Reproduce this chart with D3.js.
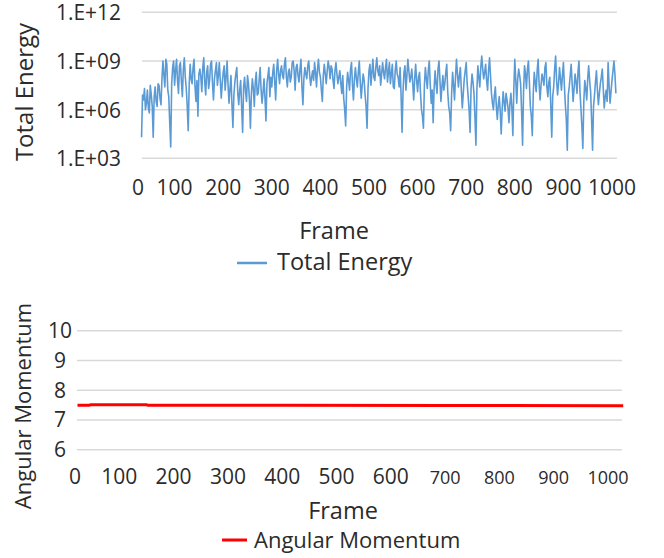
<!DOCTYPE html>
<html>
<head>
<meta charset="utf-8">
<script src="https://cdn.jsdelivr.net/npm/d3@7"></script>
<style>
body { margin: 0; background: #fff; }
text { font-family: "Open Sans", sans-serif; fill: #2b2b2b; }
</style>
</head>
<body>
<script>
var energyStart = 32, energyStep = 2;
var energyLog10 = [
  4.3, 6.9, 6.6, 7.3, 6.0, 6.4, 7.2, 6.1, 5.8, 7.5, 6.9, 6.2, 4.3, 6.8, 7.4, 6.5, 6.2, 7.6, 7.5, 6.7,
  6.3, 7.9, 9.0, 8.1, 7.4, 9.1, 8.8, 7.2, 6.8, 5.2, 3.7, 7.6, 8.6, 9.0, 7.5, 8.4, 9.1, 7.8, 7.0, 8.7,
  8.9, 7.7, 6.8, 8.5, 9.2, 8.0, 7.3, 6.2, 4.7, 7.5, 8.8, 7.9, 7.6, 8.6, 9.1, 7.4, 6.5, 7.8, 5.6, 8.2,
  8.5, 8.0, 7.1, 8.6, 9.2, 7.7, 6.9, 8.3, 8.7, 7.3, 7.8, 8.8, 9.0, 7.6, 6.6, 7.9, 8.4, 8.9, 7.5, 8.1,
  8.9, 7.8, 6.7, 7.6, 8.3, 8.7, 7.2, 8.0, 9.0, 7.5, 6.4, 7.3, 8.1, 6.3, 4.9, 6.9, 7.7, 8.2, 8.6, 7.0,
  6.3, 7.2, 7.8, 6.1, 4.6, 7.4, 8.0, 7.1, 6.5, 8.1, 7.6, 6.6, 4.85, 7.0, 7.9, 7.3, 6.2, 7.7, 8.3, 6.9,
  7.0, 7.8, 8.6, 7.2, 6.4, 7.1, 7.9, 6.7, 5.3, 7.6, 8.1, 8.6, 6.8, 8.0, 7.4, 8.3, 8.8, 7.7, 6.6, 8.4,
  9.1, 8.2, 7.6, 8.4, 8.7, 8.1, 7.9, 8.8, 9.2, 8.0, 7.4, 8.3, 8.5, 7.7, 8.0, 8.9, 9.0, 8.4, 7.2, 8.6,
  8.8, 8.1, 7.7, 8.5, 9.1, 7.4, 6.3, 7.9, 8.6, 8.2, 7.9, 8.7, 9.0, 8.1, 7.5, 8.0, 8.4, 7.8, 8.9, 8.3,
  7.4, 8.5, 9.1, 8.3, 8.0, 7.2, 6.5, 8.1, 8.8, 8.2, 7.6, 8.4, 9.0, 8.6, 7.9, 8.7, 8.5, 7.8, 7.3, 8.4,
  8.9, 8.2, 7.6, 8.0, 8.4, 7.6, 7.0, 8.1, 6.7, 6.0, 5.0, 7.4, 8.3, 7.8, 7.2, 8.5, 8.9, 7.5, 6.6, 7.9,
  8.6, 7.9, 7.4, 8.3, 9.0, 7.7, 6.7, 7.5, 8.2, 7.8, 6.9, 6.2, 4.85, 7.3, 8.4, 8.8, 7.5, 8.3, 9.1, 8.0,
  7.8, 8.6, 9.2, 8.4, 8.1, 8.7, 7.5, 8.2, 8.9, 8.3, 7.9, 8.6, 9.1, 7.7, 8.3, 8.9, 7.6, 8.2, 8.8, 7.4,
  7.3, 8.4, 9.0, 8.2, 8.0, 7.4, 8.6, 6.9, 4.6, 7.1, 8.3, 8.7, 7.2, 8.1, 9.1, 8.4, 7.7, 8.0, 8.5, 7.6,
  6.6, 7.9, 8.8, 7.8, 7.1, 8.0, 8.3, 7.0, 6.0, 5.6, 4.85, 7.5, 8.6, 7.9, 7.3, 8.4, 9.0, 7.6, 6.4, 7.2,
  5.2, 7.3, 8.4, 7.6, 7.0, 8.5, 9.0, 7.8, 6.5, 7.4, 8.1, 7.2, 7.6, 8.3, 8.8, 7.1, 6.2, 5.8, 4.7, 7.0,
  8.3, 7.5, 6.6, 8.0, 9.1, 8.2, 7.4, 8.1, 8.6, 7.2, 6.1, 7.0, 7.9, 8.4, 8.9, 7.6, 6.8, 6.0, 4.6, 7.3,
  8.2, 7.7, 7.0, 5.5, 3.8, 7.2, 8.7, 8.0, 7.4, 8.6, 9.3, 8.5, 7.9, 8.3, 8.8, 7.8, 7.2, 8.4, 9.2, 8.1,
  7.0, 6.4, 6.0, 6.9, 7.4, 6.2, 5.4, 6.3, 6.8, 5.9, 4.5, 6.0, 7.1, 6.5, 5.9, 7.0, 6.6, 6.1, 5.2, 6.4,
  7.0, 6.1, 4.4, 7.3, 9.1, 7.8, 6.4, 7.9, 8.5, 8.1, 7.6, 5.9, 3.8, 7.1, 8.7, 8.2, 7.3, 8.5, 9.0, 7.7,
  6.2, 5.6, 4.4, 7.0, 8.3, 7.7, 7.1, 8.4, 9.1, 7.6, 6.6, 7.5, 8.2, 7.9, 7.5, 8.6, 8.9, 7.4, 6.8, 7.7,
  8.0, 6.3, 4.3, 6.8, 7.4, 8.5, 9.3, 7.8, 6.9, 7.6, 8.6, 7.9, 7.2, 8.1, 8.9, 7.5, 6.3, 5.4, 3.5, 6.9,
  7.4, 8.1, 8.8, 7.6, 6.5, 7.3, 8.2, 7.7, 7.0, 8.3, 9.0, 7.2, 6.1, 5.0, 3.6, 6.5, 7.8, 7.3, 6.6, 7.9,
  8.7, 7.8, 7.1, 5.4, 3.5, 6.2, 6.9, 7.7, 8.4, 7.2, 6.3, 7.0, 7.6, 8.0, 8.5, 7.3, 6.1, 6.8, 7.2, 6.5,
  8.9, 7.5, 6.4, 7.1, 7.8, 8.4, 9.0, 8.2, 7.0
];
var energyTicks = [1e3, 1e6, 1e9, 1e12];
var energyTickLabels = ['1.E+03', '1.E+06', '1.E+09', '1.E+12'];
var frameTicks = [0, 100, 200, 300, 400, 500, 600, 700, 800, 900, 1000];

// angular momentum
var amFrames = [23, 45, 47, 150, 153, 400, 700, 1028];
var amValues = [7.49, 7.49, 7.51, 7.51, 7.49, 7.49, 7.485, 7.48];
var amTicks = [6, 7, 8, 9, 10];

var svg = d3.select('body').append('svg')
            .attr('width', 664)
            .attr('height', 558);

// ---- top chart ----
var xTop = d3.scaleLinear().domain([0, 1000]).range([126, 612]);
var yTop = d3.scaleLog().domain([1e3, 1e12]).range([158.3, 12.3]);
var topLeft = 142, topRight = 617;

svg.append('g').selectAll('line')
   .data(energyTicks).enter().append('line')
   .attr('x1', topLeft).attr('x2', topRight)
   .attr('y1', function(d){ return yTop(d); })
   .attr('y2', function(d){ return yTop(d); })
   .attr('stroke', '#d9d9d9').attr('stroke-width', 1.5);

svg.append('g').selectAll('text')
   .data(energyTicks).enter().append('text')
   .attr('x', 121)
   .attr('y', function(d){ return yTop(d) + 8; })
   .attr('text-anchor', 'end')
   .attr('textLength', 65)
   .attr('lengthAdjust', 'spacingAndGlyphs')
   .style('font-size', '21px')
   .text(function(d, i){ return energyTickLabels[i]; });

svg.append('g').selectAll('text')
   .data(frameTicks).enter().append('text')
   .attr('x', function(d){ return Math.max(xTop(d), topLeft - 4); })
   .attr('y', 195)
   .attr('text-anchor', 'middle')
   .style('font-size', '21px')
   .text(function(d){ return d; });

var energyLine = d3.line()
  .x(function(d, i){ return xTop(energyStart + i * energyStep); })
  .y(function(d){ return yTop(Math.pow(10, d)); });

svg.append('path')
   .datum(energyLog10)
   .attr('d', energyLine)
   .attr('fill', 'none')
   .attr('stroke', '#5b9bd5')
   .attr('stroke-width', 1.6)
   .attr('stroke-linejoin', 'round');

svg.append('text')
   .attr('transform', 'translate(33,92) rotate(-90)')
   .attr('text-anchor', 'middle')
   .style('font-size', '24px')
   .text('Total Energy');

svg.append('text')
   .attr('x', 334).attr('y', 238.5)
   .attr('text-anchor', 'middle')
   .style('font-size', '23.5px')
   .text('Frame');

svg.append('line')
   .attr('x1', 237).attr('x2', 267).attr('y1', 263).attr('y2', 263)
   .attr('stroke', '#5b9bd5').attr('stroke-width', 2.5);
svg.append('text')
   .attr('x', 277).attr('y', 270)
   .style('font-size', '23.5px')
   .text('Total Energy');

// ---- bottom chart ----
var xBot = d3.scaleLinear().domain([0, 1000]).range([65, 608]);
var yBot = d3.scaleLinear().domain([6, 10]).range([449.7, 330.7]);
var botLeft = 77, botRight = 622;

svg.append('g').selectAll('line')
   .data(amTicks).enter().append('line')
   .attr('x1', botLeft).attr('x2', botRight)
   .attr('y1', function(d){ return yBot(d); })
   .attr('y2', function(d){ return yBot(d); })
   .attr('stroke', '#d9d9d9').attr('stroke-width', 1.5);

svg.append('g').selectAll('text')
   .data(amTicks).enter().append('text')
   .attr('x', 60)
   .attr('y', function(d){ return yBot(d) + 7.5; })
   .attr('text-anchor', 'middle')
   .style('font-size', '21px')
   .text(function(d){ return d; });

svg.append('g').selectAll('text')
   .data(frameTicks).enter().append('text')
   .attr('x', function(d){ return Math.max(xBot(d), botLeft - 2); })
   .attr('y', 484)
   .attr('text-anchor', 'middle')
   .style('font-size', function(d){ return d >= 700 ? '18px' : '21px'; })
   .text(function(d){ return d; });

var amLine = d3.line()
  .x(function(d, i){ return xBot(amFrames[i]); })
  .y(function(d){ return yBot(d); });

svg.append('path')
   .datum(amValues)
   .attr('d', amLine)
   .attr('fill', 'none')
   .attr('stroke', '#ff0000')
   .attr('stroke-width', 3);

svg.append('text')
   .attr('transform', 'translate(31,406) rotate(-90)')
   .attr('text-anchor', 'middle')
   .style('font-size', '22px')
   .text('Angular Momentum');

svg.append('text')
   .attr('x', 343).attr('y', 519)
   .attr('text-anchor', 'middle')
   .style('font-size', '23.5px')
   .text('Frame');

svg.append('line')
   .attr('x1', 222).attr('x2', 247).attr('y1', 540).attr('y2', 540)
   .attr('stroke', '#ff0000').attr('stroke-width', 3);
svg.append('text')
   .attr('x', 254).attr('y', 548)
   .style('font-size', '22px')
   .text('Angular Momentum');
</script>
</body>
</html>
